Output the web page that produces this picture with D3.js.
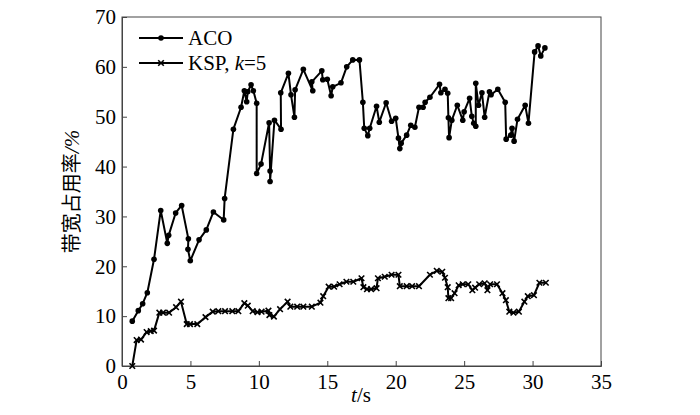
<!DOCTYPE html>
<html lang="zh">
<head>
<meta charset="utf-8">
<title>带宽占用率</title>
<script src="https://d3js.org/d3.v7.min.js"></script>
<style>
  body { margin: 0; background: #fff; }
  svg { display: block; }
  .serif { font-family: "Liberation Serif", "Times New Roman", Times, "DejaVu Serif", serif; }
</style>
</head>
<body>
<svg id="chart" width="700" height="415"></svg>
<script>
// ACO series: time (s) and bandwidth usage (%)
const acoT = [0.75,1.19,1.51,1.85,2.34,2.83,3.31,3.41,3.92,4.36,4.85,4.82,4.99,5.63,6.16,6.68,7.43,7.50,
  8.14,8.70,8.94,9.11,9.19,9.43,9.60,9.84,9.84,10.16,10.75,10.82,10.82,11.14,11.62,11.60,12.16,12.35,12.6,12.65,
  13.25,13.94,13.87,14.6,14.67,15.0,15.28,15.4,16.0,16.42,16.86,17.35,17.6,17.7,17.96,18.1,18.6,18.8,19.3,19.7,
  20.0,20.2,20.3,20.4,20.8,21.1,21.4,21.7,22.0,22.15,22.5,23.2,23.3,23.6,23.8,23.85,23.9,24.1,24.5,24.9,25.0,
  25.4,25.56,25.7,25.85,25.85,26.05,26.3,26.5,26.85,26.97,27.46,28.0,28.07,28.4,28.5,28.65,28.9,29.46,29.7,
  30.15,30.4,30.6,30.9];
const acoV = [9.0,11.1,12.5,14.7,21.4,31.2,24.6,26.2,30.7,32.2,25.5,23.4,21.1,25.3,27.3,30.9,29.3,33.6,
  47.5,51.9,55.2,53.0,55.0,56.4,55.2,52.7,38.6,40.5,48.8,39.1,37.0,49.3,47.5,54.8,58.7,54.4,49.9,55.4,
  59.5,55.2,57.0,59.2,57.4,57.5,54.2,56.0,56.8,60.0,61.4,61.4,52.9,47.7,46.2,47.7,52.1,48.9,52.8,49.1,
  49.7,45.7,43.6,44.7,46.3,48.3,47.9,51.9,51.9,52.9,53.9,56.5,54.8,55.5,54.7,49.8,45.8,49.3,52.3,49.3,51.0,
  53.7,50.1,48.7,48.1,56.7,52.3,54.8,49.9,55.0,54.4,55.5,52.9,45.5,46.3,47.7,45.1,49.5,52.3,48.7,
  63.0,64.2,62.2,63.8];

// KSP, k=5 series
const kspT = [0.75,1.07,1.39,1.8,2.1,2.34,2.73,3.0,3.44,3.95,4.31,4.73,4.97,5.5,6.1,6.63,7.04,7.53,8.06,8.5,
  8.94,9.19,9.55,9.9,10.2,10.7,10.77,11.1,11.55,12.1,12.3,12.8,13.25,13.87,14.5,14.7,15.1,15.5,15.9,16.4,16.9,
  17.5,17.64,17.9,18.2,18.6,18.7,19.2,19.7,20.2,20.3,20.8,21.2,21.7,22.5,23.0,23.4,23.6,23.8,23.85,24.05,24.3,
  24.6,24.9,25.3,25.6,25.8,26.1,26.5,26.7,26.9,27.4,27.8,28.05,28.3,28.6,29.0,29.4,29.65,30.1,30.5,30.97];
const kspV = [0,5.2,5.3,6.8,7.0,7.1,10.7,10.7,10.7,11.8,12.9,8.4,8.4,8.4,9.8,10.9,11.0,11.0,11.0,11.0,
  12.6,12.1,11.0,10.8,10.9,11.1,10.2,9.9,11.4,12.9,11.9,11.9,11.9,11.9,12.7,14.0,15.9,15.9,16.4,16.9,16.9,
  17.6,15.8,15.4,15.4,15.6,17.6,17.9,18.3,18.3,16.0,16.0,16.0,16.0,18.3,19.1,18.9,17.7,15.8,13.6,13.6,14.6,
  16.2,16.4,16.4,15.2,15.7,16.4,16.6,15.2,16.4,16.4,14.6,13.2,10.9,10.7,10.9,12.9,14.0,14.2,16.7,16.7];

const xTicks = [0,5,10,15,20,25,30,35];
const yTicks = [0,10,20,30,40,50,60,70];
const seriesNames = ["ACO", "KSP, k=5"];

const SERIF = "Liberation Serif, Times New Roman, Times, DejaVu Serif, serif";
const margin = {left: 122, right: 99, top: 17, bottom: 49};
const W = 700, H = 415;
const svg = d3.select("#chart");

const x = d3.scaleLinear().domain([0,35]).range([margin.left, W - margin.right]);
const y = d3.scaleLinear().domain([0,70]).range([H - margin.bottom, margin.top]);

// frame
svg.append("rect")
  .attr("x", x(0)).attr("y", y(70))
  .attr("width", x(35) - x(0)).attr("height", y(0) - y(70))
  .attr("fill", "none").attr("stroke", "#444").attr("stroke-width", 1);

// axes with inward ticks
const xAxis = svg.append("g")
  .attr("transform", `translate(0,${y(0)})`)
  .call(d3.axisBottom(x).tickValues(xTicks).tickSize(-5).tickPadding(8));
const yAxis = svg.append("g")
  .attr("transform", `translate(${x(0)},0)`)
  .call(d3.axisLeft(y).tickValues(yTicks).tickSize(-5).tickPadding(6));
[xAxis, yAxis].forEach(a => {
  a.attr("font-family", SERIF).attr("font-size", 21);
  a.select(".domain").attr("stroke", "#444");
  a.selectAll(".tick line").attr("stroke", "#444");
  a.selectAll(".tick text").attr("fill", "#000");
});

const line = d3.line().x(d => x(d[0])).y(d => y(d[1]));
const aco = acoT.map((t, i) => [t, acoV[i]]);
const ksp = kspT.map((t, i) => [t, kspV[i]]);

svg.append("path").datum(aco).attr("d", line)
  .attr("fill", "none").attr("stroke", "#000").attr("stroke-width", 2).attr("stroke-linejoin", "round");
svg.selectAll(".aco-pt").data(aco).enter().append("circle")
  .attr("cx", d => x(d[0])).attr("cy", d => y(d[1])).attr("r", 2.8).attr("fill", "#000");

svg.append("path").datum(ksp).attr("d", line)
  .attr("fill", "none").attr("stroke", "#000").attr("stroke-width", 2).attr("stroke-linejoin", "round");
const cross = d3.symbol().type(d3.symbolX).size(22);
svg.selectAll(".ksp-pt").data(ksp).enter().append("path")
  .attr("transform", d => `translate(${x(d[0])},${y(d[1])})`)
  .attr("d", cross).attr("fill", "none").attr("stroke", "#000").attr("stroke-width", 1.6);

// legend
const lg = svg.append("g").attr("font-family", SERIF).attr("font-size", 21);
[0, 1].forEach(i => {
  const ly = 38 + i * 25;
  lg.append("line").attr("x1", 139).attr("x2", 183).attr("y1", ly).attr("y2", ly)
    .attr("stroke", "#000").attr("stroke-width", 2);
  if (i === 0) {
    lg.append("circle").attr("cx", 161).attr("cy", ly).attr("r", 2.8).attr("fill", "#000");
  } else {
    lg.append("path").attr("transform", `translate(161,${ly})`).attr("d", cross)
      .attr("fill", "none").attr("stroke", "#000").attr("stroke-width", 1.6);
  }
  const t = lg.append("text").attr("x", 188).attr("y", ly + 7);
  if (i === 0) t.text(seriesNames[0]);
  else {
    t.append("tspan").text("KSP, ");
    t.append("tspan").attr("font-style", "italic").text("k");
    t.append("tspan").text("=5");
  }
});

// axis titles
const xt = svg.append("text").attr("x", 361).attr("y", 402).attr("text-anchor", "middle")
  .attr("font-family", SERIF).attr("font-size", 21);
xt.append("tspan").attr("font-style", "italic").text("t");
xt.append("tspan").text("/s");

const yt = svg.append("text")
  .attr("transform", `translate(79,${(y(0) + y(70)) / 2}) rotate(-90)`)
  .attr("text-anchor", "middle")
  .attr("font-family", "Noto Sans CJK SC, sans-serif").attr("font-size", 20);
yt.append("tspan").text("带宽占用率");
yt.append("tspan").attr("font-family", SERIF).attr("font-style", "italic")
  .attr("font-size", 21).text("/%");
</script>
</body>
</html>
